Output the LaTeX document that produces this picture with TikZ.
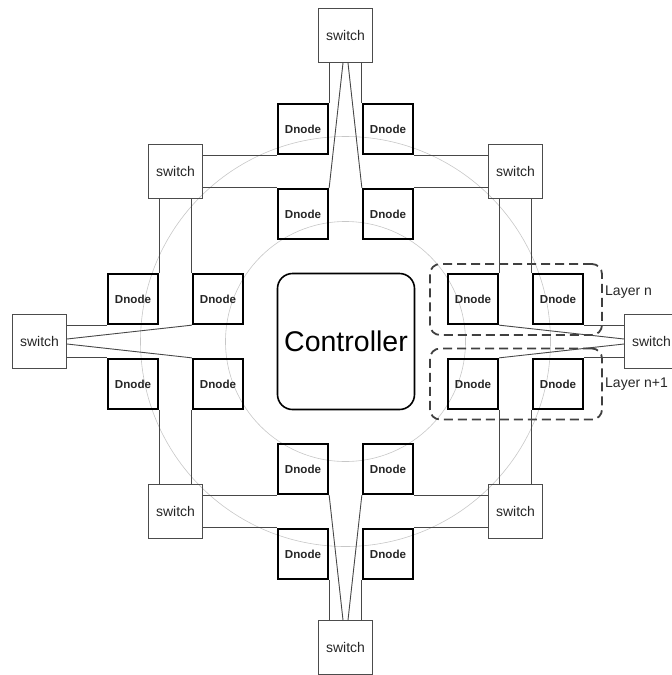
\documentclass[tikz,border=0pt]{standalone}
\usepackage{fontspec}
\setmainfont{Liberation Sans}
\usetikzlibrary{calc}

\begin{document}
\begin{tikzpicture}[x=1pt,y=-1pt,
  dnode/.style={draw=black, line width=2.3pt, minimum size=50pt, inner sep=0pt,
    font=\fontsize{11.6}{13}\selectfont\bfseries, text=black!85},
  switchbox/.style={draw=black!70, line width=0.9pt, minimum size=54pt, inner sep=0pt,
    font=\fontsize{14}{16}\selectfont, text=black!85},
  link/.style={draw=black!72, line width=0.9pt},
  ring/.style={draw=black!22, line width=0.6pt},
  layerbox/.style={draw=black!75, line width=1.8pt, dash pattern=on 9pt off 5pt,
    rounded corners=10pt, minimum width=172pt, minimum height=71pt, inner sep=0pt},
  layerlabel/.style={anchor=west, inner sep=0pt, font=\fontsize{14}{16}\selectfont, text=black!85}
]
\useasboundingbox (0,0) rectangle (672,675);

% guide rings around the controller
\coordinate (ctr) at (345.5,341.5);
\draw[ring] (ctr) circle[radius=120];
\draw[ring] (ctr) circle[radius=205];

% controller
\node[draw=black, line width=1.6pt, rounded corners=15pt, minimum width=137pt,
  minimum height=136pt, inner sep=0pt, font=\fontsize{28.5}{30}\selectfont]
  (ctrl) at (346,341.5) {Controller};

% data nodes: top, left, right, bottom clusters
\node[dnode] (dt1) at (303,129) {Dnode};
\node[dnode] (dt2) at (388,129) {Dnode};
\node[dnode] (dt3) at (303,214) {Dnode};
\node[dnode] (dt4) at (388,214) {Dnode};

\node[dnode] (dl1) at (133,299) {Dnode};
\node[dnode] (dl2) at (218,299) {Dnode};
\node[dnode] (dl3) at (133,384) {Dnode};
\node[dnode] (dl4) at (218,384) {Dnode};

\node[dnode] (dr1) at (473,299) {Dnode};
\node[dnode] (dr2) at (558,299) {Dnode};
\node[dnode] (dr3) at (473,384) {Dnode};
\node[dnode] (dr4) at (558,384) {Dnode};

\node[dnode] (db1) at (303,469) {Dnode};
\node[dnode] (db2) at (388,469) {Dnode};
\node[dnode] (db3) at (303,554) {Dnode};
\node[dnode] (db4) at (388,554) {Dnode};

% switches
\node[switchbox] (st)  at (345.5,35.5)  {switch};
\node[switchbox] (sb)  at (345.5,647.5) {switch};
\node[switchbox] (sl)  at (39.5,341.5)  {switch};
\node[switchbox] (sr)  at (651.5,341.5) {switch};
\node[switchbox] (stl) at (175.5,171.5) {switch};
\node[switchbox] (str) at (515.5,171.5) {switch};
\node[switchbox] (sbl) at (175.5,511.5) {switch};
\node[switchbox] (sbr) at (515.5,511.5) {switch};

% layer groups
\node[layerbox] (layn)  at (516,299.5) {};
\node[layerbox] (layn1) at (516,384)   {};
\node[layerlabel] (labn)  at (605,292) {Layer n};
\node[layerlabel] (labn1) at (605,384) {Layer n+1};

% top switch
\draw[link] (dt1.north east |- st.south) -- (dt1.north east);
\draw[link] (dt2.north west |- st.south) -- (dt2.north west);
\draw[link] ($(st.south)+(-2.5,0)$) -- (dt3.north east);
\draw[link] ($(st.south)+(2.5,0)$) -- (dt4.north west);

% bottom switch
\draw[link] (db3.south east |- sb.north) -- (db3.south east);
\draw[link] (db4.south west |- sb.north) -- (db4.south west);
\draw[link] ($(sb.north)+(-2.5,0)$) -- (db1.south east);
\draw[link] ($(sb.north)+(2.5,0)$) -- (db2.south west);

% left switch
\draw[link] (sl.east |- dl1.south west) -- (dl1.south west);
\draw[link] (sl.east |- dl3.north west) -- (dl3.north west);
\draw[link] ($(sl.east)+(0,-2.5)$) -- (dl2.south west);
\draw[link] ($(sl.east)+(0,2.5)$) -- (dl4.north west);

% right switch
\draw[link] (sr.west |- dr2.south east) -- (dr2.south east);
\draw[link] (sr.west |- dr4.north east) -- (dr4.north east);
\draw[link] ($(sr.west)+(0,-2.5)$) -- (dr1.south east);
\draw[link] ($(sr.west)+(0,2.5)$) -- (dr3.north east);

% corner switches
\draw[link] (stl.east |- dt1.south west) -- (dt1.south west);
\draw[link] (stl.east |- dt3.north west) -- (dt3.north west);
\draw[link] (stl.south -| dl1.north east) -- (dl1.north east);
\draw[link] (stl.south -| dl2.north west) -- (dl2.north west);

\draw[link] (str.west |- dt2.south east) -- (dt2.south east);
\draw[link] (str.west |- dt4.north east) -- (dt4.north east);
\draw[link] (str.south -| dr1.north east) -- (dr1.north east);
\draw[link] (str.south -| dr2.north west) -- (dr2.north west);

\draw[link] (sbl.east |- db1.south west) -- (db1.south west);
\draw[link] (sbl.east |- db3.north west) -- (db3.north west);
\draw[link] (sbl.north -| dl3.south east) -- (dl3.south east);
\draw[link] (sbl.north -| dl4.south west) -- (dl4.south west);

\draw[link] (sbr.west |- db2.south east) -- (db2.south east);
\draw[link] (sbr.west |- db4.north east) -- (db4.north east);
\draw[link] (sbr.north -| dr3.south east) -- (dr3.south east);
\draw[link] (sbr.north -| dr4.south west) -- (dr4.south west);
\end{tikzpicture}
\end{document}
